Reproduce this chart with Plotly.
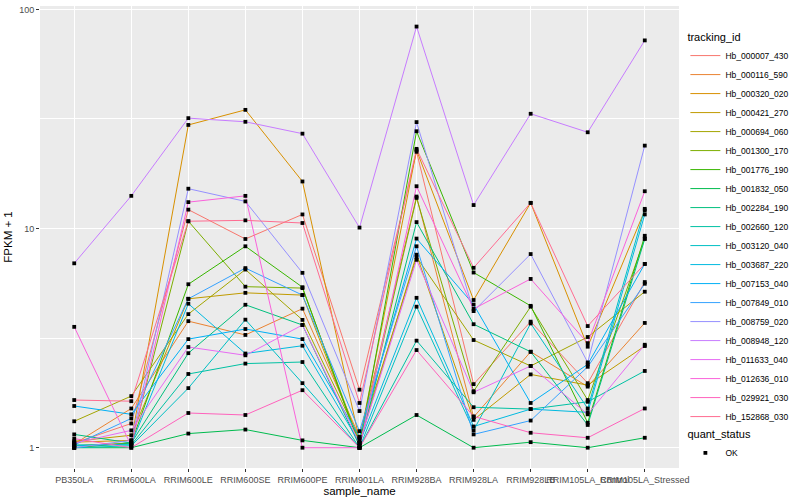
import plotly.graph_objects as go

samples = ["PB350LA", "RRIM600LA", "RRIM600LE", "RRIM600SE", "RRIM600PE", "RRIM901LA",
           "RRIM928BA", "RRIM928LA", "RRIM928LB", "RRIM105LA_Control", "RRIM105LA_Stressed"]

tracking_ids = ["Hb_000007_430", "Hb_000116_590", "Hb_000320_020", "Hb_000421_270", "Hb_000694_060",
                "Hb_001300_170", "Hb_001776_190", "Hb_001832_050", "Hb_002284_190", "Hb_002660_120",
                "Hb_003120_040", "Hb_003687_220", "Hb_007153_040", "Hb_007849_010", "Hb_008759_020",
                "Hb_008948_120", "Hb_011633_040", "Hb_012636_010", "Hb_029921_030", "Hb_152868_030"]

# FPKM + 1 values per sample (same order as samples)
hb_000007_430 = [1.05, 1.29, 12.2, 8.96, 11.6, 1.84, 22.4, 1.95, 3.76, 1.97, 5.7]
hb_000116_590 = [1.04, 1.51, 3.78, 3.27, 4.31, 1.12, 14.0, 1.38, 2.74, 1.90, 3.71]
hb_000320_020 = [1.06, 1.08, 29.7, 34.8, 16.4, 1.08, 22.8, 4.72, 13.1, 2.89, 12.1]
hb_000421_270 = [1.07, 1.14, 4.78, 5.09, 4.97, 1.05, 7.6, 1.34, 2.16, 1.93, 2.91]
hb_000694_060 = [1.32, 1.72, 4.07, 6.5, 3.83, 1.10, 7.4, 3.10, 2.36, 3.2, 5.15]
hb_001300_170 = [1.02, 1.05, 10.8, 5.43, 5.35, 1.05, 13.8, 1.81, 4.4, 1.65, 9.0]
hb_001776_190 = [1.0, 1.05, 5.57, 8.3, 5.4, 1.02, 27.8, 6.3, 4.44, 1.3, 9.27]
hb_001832_050 = [1.0, 1.0, 1.16, 1.21, 1.08, 1.0, 1.41, 1.0, 1.06, 1.0, 1.11]
hb_002284_190 = [1.15, 1.05, 2.70, 4.49, 3.63, 1.02, 10.7, 3.66, 2.74, 1.27, 8.96]
hb_002660_120 = [1.03, 1.03, 2.17, 2.42, 2.46, 1.0, 3.08, 1.53, 1.50, 1.62, 2.24]
hb_003120_040 = [1.0, 1.02, 1.87, 3.84, 1.97, 1.0, 4.4, 1.2, 3.69, 1.51, 12.3]
hb_003687_220 = [1.02, 1.04, 4.54, 2.69, 2.92, 1.05, 4.83, 1.25, 1.50, 1.45, 11.6]
hb_007153_040 = [1.55, 1.42, 3.13, 3.48, 3.13, 1.12, 9.0, 4.5, 1.60, 2.4, 6.9]
hb_007849_010 = [1.03, 1.36, 4.78, 6.6, 4.97, 1.19, 8.3, 1.15, 1.33, 2.34, 5.6]
hb_008759_020 = [1.0, 1.08, 15.2, 13.3, 6.28, 1.47, 30.6, 4.2, 7.65, 2.45, 23.9]
hb_008948_120 = [6.94, 14.1, 31.9, 30.7, 27.1, 10.1, 83.5, 12.8, 33.4, 27.5, 72.2]
hb_011633_040 = [1.05, 1.2, 2.88, 2.64, 3.63, 1.05, 7.2, 1.79, 2.36, 1.42, 2.95]
hb_012636_010 = [3.56, 1.02, 13.2, 14.1, 1.0, 1.0, 15.6, 4.3, 5.89, 3.0, 14.8]
hb_029921_030 = [1.1, 1.0, 1.44, 1.41, 1.83, 1.0, 2.79, 1.39, 1.17, 1.11, 1.51]
hb_152868_030 = [1.65, 1.63, 10.8, 10.9, 10.6, 1.6, 23.1, 6.62, 13.1, 3.59, 6.9]

quant_status = "OK"

y_tick_values = [1, 10, 100]
y_tick_labels = ["1", "10", "100"]

series = [hb_000007_430, hb_000116_590, hb_000320_020, hb_000421_270, hb_000694_060,
          hb_001300_170, hb_001776_190, hb_001832_050, hb_002284_190, hb_002660_120,
          hb_003120_040, hb_003687_220, hb_007153_040, hb_007849_010, hb_008759_020,
          hb_008948_120, hb_011633_040, hb_012636_010, hb_029921_030, hb_152868_030]

colors = ["#F8766D", "#EA8331", "#D89000", "#C09B00", "#A3A500", "#7CAE00", "#39B600",
          "#00BB4E", "#00BF7D", "#00C1A3", "#00BFC4", "#00BAE0", "#00B0F6", "#35A2FF",
          "#9590FF", "#C77CFF", "#E76BF3", "#FA62DB", "#FF62BC", "#FF6C91"]

FONT = "Liberation Sans, Arial, Helvetica, sans-serif"

fig = go.Figure()
for name, vals, col in zip(tracking_ids, series, colors):
    fig.add_trace(go.Scatter(x=samples, y=vals, mode="lines", name=name,
                             line=dict(color=col, width=1), legend="legend"))

all_x = [s for vals in series for s in samples]
all_y = [v for vals in series for v in vals]
fig.add_trace(go.Scatter(x=all_x, y=all_y, mode="markers", name=quant_status,
                         marker=dict(symbol="square", size=3.8, color="black"),
                         legend="legend2"))

fig.update_layout(
    width=800, height=500,
    margin=dict(l=40, r=117, t=6, b=32),
    paper_bgcolor="white", plot_bgcolor="#EBEBEB",
    font=dict(family=FONT, size=9, color="#4D4D4D"),
    xaxis=dict(type="category", categoryorder="array", categoryarray=samples,
               range=[-0.6, len(samples) - 0.4],
               tickmode="array", tickvals=samples, ticktext=samples, tickangle=0,
               showgrid=True, gridcolor="white", gridwidth=1.1,
               ticks="outside", ticklen=3, tickcolor="#333333",
               tickfont=dict(family=FONT, size=9, color="#4D4D4D"),
               zeroline=False, showline=False, automargin=False,
               title=dict(text="sample_name", font=dict(family=FONT, size=11.5, color="black"), standoff=2)),
    yaxis=dict(type="log", range=[-0.0926, 2.0155],
               tickmode="array", tickvals=y_tick_values, ticktext=y_tick_labels,
               showgrid=True, gridcolor="white", gridwidth=1.1,
               minor=dict(tickmode="array", tickvals=[10 ** 0.5, 10 ** 1.5], showgrid=True,
                          gridcolor="white", gridwidth=0.5, ticks=""),
               ticks="outside", ticklen=3, tickcolor="#333333",
               tickfont=dict(family=FONT, size=9, color="#4D4D4D"),
               zeroline=False, showline=False, automargin=False,
               title=dict(text="FPKM + 1", font=dict(family=FONT, size=11.5, color="black"), standoff=4)),
    legend=dict(title=dict(text="tracking_id", font=dict(family=FONT, size=11, color="black")),
                x=1.01, xanchor="left", y=0.955, yanchor="top",
                font=dict(family=FONT, size=8.5, color="black"),
                itemwidth=30, bgcolor="rgba(0,0,0,0)", tracegroupgap=0),
    legend2=dict(title=dict(text="quant_status", font=dict(family=FONT, size=11, color="black")),
                 x=1.01, xanchor="left", y=0.095, yanchor="top",
                 font=dict(family=FONT, size=8.5, color="black"),
                 itemwidth=30, bgcolor="rgba(0,0,0,0)"),
    showlegend=True,
)

fig.write_html("out.html", config={"displayModeBar": False},
               post_script="document.body.style.margin='0';")
